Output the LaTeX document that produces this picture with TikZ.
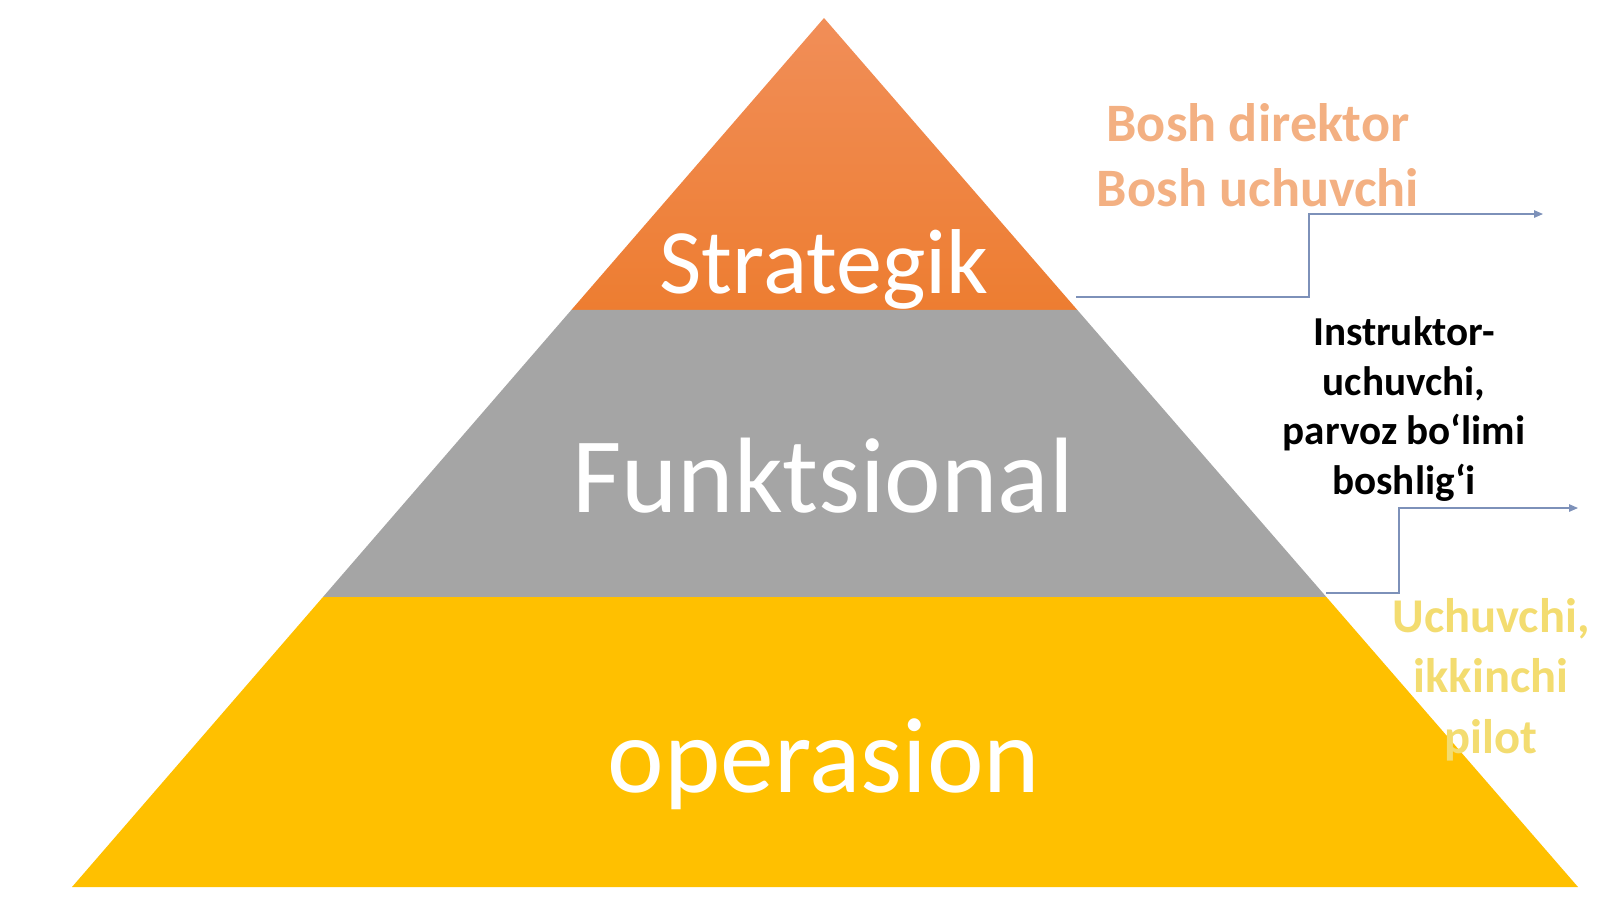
\documentclass[tikz,border=0pt]{standalone}
\usepackage{fontspec}
\setmainfont{Carlito}
\usetikzlibrary{calc,arrows.meta}
\definecolor{stratorange}{HTML}{ED7D31}
\definecolor{stratlight}{RGB}{241,142,88}
\definecolor{funcgray}{HTML}{A5A5A5}
\definecolor{opyellow}{HTML}{FFC000}
\definecolor{peach}{RGB}{243,176,130}
\definecolor{paleyellow}{RGB}{243,220,112}
\definecolor{linkblue}{RGB}{125,145,185}
\tikzset{
    level/.style = {
        text=white,
        font=\fontsize{30.5}{36}\selectfont
    },
    role/.style = {
        align=center,
        inner sep=0pt,
        font=\bfseries
    },
    link/.style = {
        linkblue,
        line width=0.35pt,
        -{Triangle[length=0.9mm,width=0.75mm]}
    }
}

\begin{document}
\begin{tikzpicture}[x=0.01cm,y=-0.01cm]
    \useasboundingbox (0,0) rectangle (1600,899);
    % Pyramid corners and band edges
    \coordinate (apex) at (824,18);
    \coordinate (baseL) at (72,887);
    \coordinate (baseR) at (1578,887);
    \coordinate (topL) at ($(apex)!0.336!(baseL)$);
    \coordinate (topR) at ($(apex)!0.336!(baseR)$);
    \coordinate (midL) at ($(apex)!0.6663!(baseL)$);
    \coordinate (midR) at ($(apex)!0.6663!(baseR)$);

    % Bands
    \shade[top color=stratlight, bottom color=stratorange] (apex) -- (topL) -- (topR) -- cycle;
    \fill[funcgray] (topL) -- (midL) -- (midR) -- (topR) -- cycle;
    \fill[opyellow] (midL) -- (baseL) -- (baseR) -- (midR) -- cycle;

    % Band titles
    \node[level, font=\fontsize{26.2}{31}\selectfont, anchor=base] (strategik) at (824,293) {Strategik};
    \node[level, anchor=base] (funksional) at (823,512) {Funktsional};
    \node[level, anchor=base] (operasion) at (824,792) {operasion};

    % Roles
    \node[role, text=peach, font=\bfseries\fontsize{15.4}{18.5}\selectfont, anchor=north] (bosh) at (1258,103)
        {Bosh direktor\\Bosh uchuvchi};
    \node[role, font=\bfseries\fontsize{11.7}{14.1}\selectfont, anchor=north] (instruktor) at (1404,316)
        {Instruktor-\\uchuvchi,\\parvoz bo‘limi\\boshlig‘i};
    \node[role, text=paleyellow, font=\bfseries\fontsize{13.8}{17.1}\selectfont, anchor=north] (uchuvchi) at (1491,598)
        {Uchuvchi,\\ikkinchi\\pilot};

    % Connectors
    \coordinate (stratFoot) at (1076,297);
    \coordinate (stratTip) at (1543,214);
    \coordinate (funcFoot) at (1326,593);
    \coordinate (funcTip) at (1578,508);
    \draw[link] (stratFoot) -- ++(233,0) |- (stratTip);
    \draw[link] (funcFoot) -- ++(73,0) |- (funcTip);
\end{tikzpicture}
\end{document}
